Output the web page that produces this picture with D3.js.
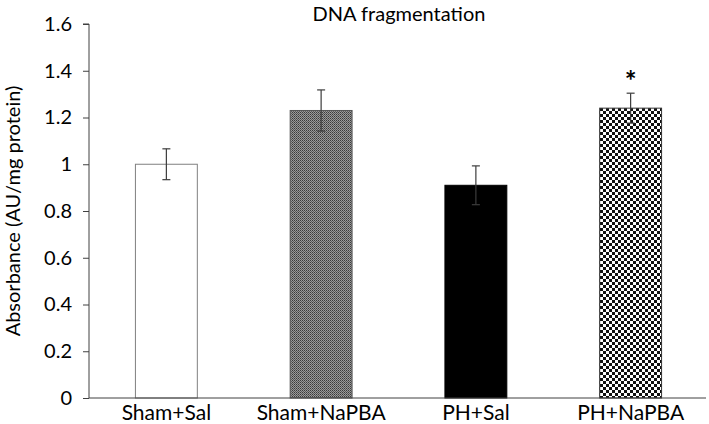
<!DOCTYPE html>
<html>
<head>
<meta charset="utf-8">
<script src="https://cdn.jsdelivr.net/npm/d3@7"></script>
<style>
  body { margin: 0; background: #fff; }
  text { font-family: Lato, "Open Sans", sans-serif; fill: #000; }
</style>
</head>
<body>
<div class="chart"></div>
<script>
// values
const groups = ["Sham+Sal", "Sham+NaPBA", "PH+Sal", "PH+NaPBA"];
const means = [1.0, 1.23, 0.91, 1.24];
const errors = [0.066, 0.088, 0.083, 0.064];
const fills = ["#ffffff", "url(#fine)", "#000000", "url(#checker)"];
const strokes = ["#808080", "#555555", "#000000", "#333333"];
const marks = ["", "", "", "*"];
const yTicks = [0, 0.2, 0.4, 0.6, 0.8, 1, 1.2, 1.4, 1.6];

const width = 709, height = 424;
const margin = { top: 24, right: 1, bottom: 26, left: 89 };
const font = "Lato, 'Open Sans', sans-serif";

const svg = d3.select(".chart").append("svg")
    .attr("width", width)
    .attr("height", height);

// patterns for the two hatched bars
const defs = svg.append("defs");
const fine = defs.append("pattern").attr("id", "fine")
    .attr("width", 2).attr("height", 2).attr("patternUnits", "userSpaceOnUse");
fine.append("rect").attr("width", 2).attr("height", 2).attr("fill", "#9a9a9a");
fine.append("rect").attr("width", 1).attr("height", 1).attr("fill", "#3a3a3a");
fine.append("rect").attr("x", 1).attr("y", 1).attr("width", 1).attr("height", 1).attr("fill", "#5a5a5a");

const checker = defs.append("pattern").attr("id", "checker")
    .attr("width", 6).attr("height", 6).attr("patternUnits", "userSpaceOnUse");
checker.append("rect").attr("width", 6).attr("height", 6).attr("fill", "#ffffff");
checker.append("rect").attr("width", 3).attr("height", 3).attr("fill", "#111");
checker.append("rect").attr("x", 3).attr("y", 3).attr("width", 3).attr("height", 3).attr("fill", "#111");

const x = d3.scaleBand()
    .domain(groups)
    .range([margin.left, width - margin.right])
    .paddingInner(0.6)
    .paddingOuter(0.3);

const y = d3.scaleLinear()
    .domain([0, 1.6])
    .range([height - margin.bottom, margin.top]);

// bars
svg.append("g")
    .selectAll("rect")
    .data(groups)
    .enter().append("rect")
    .attr("x", d => x(d))
    .attr("y", (d, i) => y(means[i]))
    .attr("width", x.bandwidth())
    .attr("height", (d, i) => y(0) - y(means[i]))
    .attr("fill", (d, i) => fills[i])
    .attr("stroke", (d, i) => strokes[i])
    .attr("stroke-width", 1);

// error bars
const err = svg.append("g")
    .attr("stroke", "#3c3c3c")
    .attr("stroke-width", 1.2);
groups.forEach((g, i) => {
    const cx = x(g) + x.bandwidth() / 2;
    const lo = y(means[i] - errors[i]), hi = y(means[i] + errors[i]);
    err.append("line").attr("x1", cx).attr("x2", cx).attr("y1", lo).attr("y2", hi);
    err.append("line").attr("x1", cx - 4).attr("x2", cx + 4).attr("y1", hi).attr("y2", hi);
    err.append("line").attr("x1", cx - 4).attr("x2", cx + 4).attr("y1", lo).attr("y2", lo);
});

// significance mark
svg.append("g")
    .selectAll("text")
    .data(groups)
    .enter().append("text")
    .attr("x", d => x(d) + x.bandwidth() / 2)
    .attr("y", (d, i) => y(means[i] + errors[i]) - 2)
    .attr("text-anchor", "middle")
    .style("font-size", "28px")
    .style("font-weight", "bold")
    .text((d, i) => marks[i]);

// y axis
const yAxis = svg.append("g")
    .attr("transform", `translate(${margin.left},0)`)
    .call(d3.axisLeft(y).tickValues(yTicks).tickFormat(d3.format("")).tickSize(6).tickPadding(11));
yAxis.selectAll("text").style("font-size", "20px").style("font-family", font);
yAxis.selectAll("line, path").attr("stroke", "#404040");
yAxis.select(".domain").attr("d", `M-6,${y(1.6)}H0V${y(0)}`);

// x axis
const xAxis = svg.append("g")
    .attr("transform", `translate(0,${y(0)})`)
    .call(d3.axisBottom(x).tickSize(0).tickPadding(7));
xAxis.selectAll("text").style("font-size", "21px").style("font-family", font);
xAxis.select(".domain").attr("stroke", "#404040")
    .attr("d", `M${margin.left},0H${width - 3}`);

// titles
svg.append("text")
    .attr("x", (margin.left + width) / 2)
    .attr("y", 21)
    .attr("text-anchor", "middle")
    .style("font-size", "20px")
    .text("DNA fragmentation");

svg.append("text")
    .attr("transform", `translate(20,${y(0.8)}) rotate(-90)`)
    .attr("text-anchor", "middle")
    .style("font-size", "20px")
    .text("Absorbance (AU/mg protein)");
</script>
</body>
</html>
